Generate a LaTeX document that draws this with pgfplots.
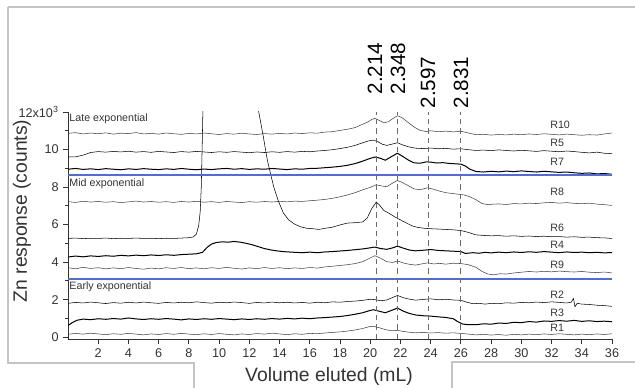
\documentclass[border=0pt]{standalone}
\usepackage{pgfplots}
\pgfplotsset{compat=1.18}
\usepackage{fontspec}
\setmainfont{Liberation Sans}
\definecolor{trace}{HTML}{404040}
\definecolor{bl}{HTML}{4A72C8}
\definecolor{frame}{HTML}{C4C4C4}
\definecolor{txt}{HTML}{333333}
\definecolor{dsh}{HTML}{6A6A6A}
\begin{document}
\begin{tikzpicture}
\useasboundingbox (0,0) rectangle (476.25pt,291pt);
\draw[frame, line width=1.2pt] (6pt,285.75pt) -- (476.25pt,285.75pt);
\draw[frame, line width=1.2pt] (6pt,285.75pt) -- (6pt,18.75pt) -- (145.5pt,18.75pt) -- (145.5pt,0pt);
\draw[frame, line width=1.2pt] (339pt,0pt) -- (339pt,19.5pt) -- (476.25pt,19.5pt);
\begin{axis}[at={(51pt,36.75pt)}, anchor=south west, scale only axis,
  width=408pt, height=170.25pt,
  xmin=0, xmax=36, ymin=-0.1, ymax=12,
  axis x line*=bottom, axis y line*=left,
  xtick={2,4,...,36},
  ytick={0,2,...,12},
  yticklabels={0,2,4,6,8,10,{12x10\textsuperscript{3}}},
  minor ytick={1,3,...,11},
  tick align=outside,
  major tick length=3.5pt, minor tick length=2pt,
  tick style={color=txt, line width=0.6pt},
  axis line style={color=txt, line width=0.6pt},
  ticklabel style={font=\fontsize{9.5}{10}\selectfont, text=txt},
  /pgf/number format/assume math mode=true,
  cycle list={{trace, no markers, line width=0.75pt}},
]
% R10
\addplot coordinates {(0,10.86)(0.5,10.90)(1,10.83)(1.5,10.88)(2,10.84)(2.5,10.89)(3,10.82)(3.5,10.87)(4,10.85)(4.5,10.90)(5,10.83)(5.5,10.86)(6,10.82)(6.5,10.88)(7,10.84)(7.5,10.81)(8,10.86)(8.5,10.83)(9,10.88)(9.5,10.84)(10,10.80)(10.5,10.85)(11,10.82)(11.5,10.87)(12,10.83)(12.5,10.80)(13,10.85)(13.5,10.82)(14,10.86)(14.5,10.83)(15,10.88)(15.5,10.85)(16,10.89)(16.5,10.87)(17,10.93)(17.5,10.95)(18,11.02)(18.5,11.08)(19,11.17)(19.5,11.35)(19.8,11.45)(20.1,11.60)(20.3,11.66)(20.6,11.55)(20.9,11.42)(21.2,11.48)(21.5,11.65)(21.8,11.80)(22.1,11.70)(22.5,11.45)(22.9,11.20)(23.3,11.02)(23.7,10.96)(24,11.00)(24.5,10.95)(25,10.98)(25.5,10.94)(26,10.97)(26.3,10.92)(26.7,10.84)(27,10.79)(27.5,10.81)(28,10.77)(28.5,10.80)(29,10.78)(29.5,10.82)(30,10.79)(30.5,10.83)(31,10.80)(31.5,10.84)(32,10.81)(32.5,10.78)(33,10.82)(33.5,10.79)(34,10.76)(34.5,10.79)(35,10.77)(35.5,10.83)(36,10.88)};
% R5
\addplot coordinates {(0,9.60)(0.5,9.61)(1,9.70)(1.5,9.84)(2,9.89)(2.5,9.86)(3,9.90)(3.5,9.87)(4,9.91)(4.5,9.86)(5,9.89)(5.5,9.85)(6,9.90)(6.5,9.87)(7,9.84)(7.5,9.89)(8,9.86)(8.5,9.90)(9,9.87)(9.5,9.84)(10,9.88)(10.5,9.85)(11,9.89)(11.5,9.86)(12,9.83)(12.5,9.87)(13,9.84)(13.5,9.88)(14,9.85)(14.5,9.89)(15,9.86)(15.5,9.90)(16,9.88)(16.5,9.92)(17,9.95)(17.5,9.99)(18,10.05)(18.5,10.12)(19,10.22)(19.5,10.36)(19.9,10.46)(20.2,10.50)(20.5,10.42)(20.8,10.28)(21.1,10.22)(21.5,10.30)(21.8,10.36)(22.1,10.26)(22.5,10.15)(23,10.07)(23.5,10.05)(24,10.08)(24.5,10.04)(25,10.06)(25.5,10.02)(26,10.04)(26.5,9.99)(27,9.95)(27.5,9.97)(28,9.94)(28.5,9.98)(29,9.95)(29.5,9.92)(30,9.96)(30.5,9.93)(31,9.90)(31.5,9.94)(32,9.91)(32.5,9.88)(33,9.92)(33.5,9.89)(34,9.85)(34.5,9.82)(35,9.86)(35.5,9.80)(36,9.78)};
% R7
\addplot coordinates {(0,8.95)(0.5,8.99)(1,8.94)(1.5,8.97)(2,8.93)(2.5,8.98)(3,8.95)(3.5,8.92)(4,8.97)(4.5,8.94)(5,8.98)(5.5,8.95)(6,8.93)(6.5,8.97)(7,8.94)(7.5,8.99)(8,8.95)(8.5,8.92)(9,8.96)(9.5,8.93)(10,8.97)(10.5,8.99)(11,8.95)(11.5,8.98)(12,8.94)(12.5,8.97)(13,8.95)(13.5,8.99)(14,8.96)(14.5,8.93)(15,8.97)(15.5,8.95)(16,8.99)(16.5,9.00)(17,9.03)(17.5,9.06)(18,9.10)(18.5,9.16)(19,9.25)(19.5,9.38)(19.9,9.50)(20.3,9.60)(20.6,9.55)(21,9.43)(21.4,9.62)(21.8,9.80)(22.1,9.66)(22.5,9.45)(22.9,9.29)(23.3,9.27)(23.7,9.34)(24,9.33)(24.4,9.28)(24.8,9.30)(25.2,9.26)(25.6,9.24)(26,9.22)(26.3,9.12)(26.6,8.95)(27,8.83)(27.5,8.80)(28,8.84)(28.5,8.81)(29,8.85)(29.5,8.82)(30,8.86)(30.5,8.83)(31,8.80)(31.5,8.84)(32,8.81)(32.5,8.78)(33,8.80)(33.5,8.76)(34,8.73)(34.5,8.75)(35,8.70)(35.5,8.72)(36,8.68)};
% R8
\addplot coordinates {(0,7.22)(0.5,7.18)(1,7.24)(1.5,7.20)(2,7.23)(2.5,7.19)(3,7.22)(3.5,7.17)(4,7.21)(4.5,7.25)(5,7.20)(5.5,7.23)(6,7.19)(6.5,7.22)(7,7.18)(7.5,7.23)(8,7.20)(8.5,7.24)(9,7.19)(9.5,7.22)(10,7.18)(10.5,7.23)(11,7.20)(11.5,7.17)(12,7.22)(12.5,7.19)(13,7.23)(13.5,7.20)(14,7.24)(14.5,7.21)(15,7.25)(15.5,7.23)(16,7.27)(16.5,7.30)(17,7.34)(17.5,7.40)(18,7.48)(18.5,7.58)(19,7.70)(19.5,7.85)(20,7.98)(20.4,8.12)(20.8,8.05)(21.1,8.02)(21.5,8.22)(21.8,8.35)(22.1,8.25)(22.5,8.08)(22.9,7.90)(23.3,7.86)(23.8,7.96)(24.2,7.88)(24.6,7.78)(25,7.70)(25.4,7.66)(25.8,7.62)(26.2,7.58)(26.6,7.48)(27,7.32)(27.4,7.12)(27.8,7.06)(28,7.08)(28.5,7.10)(29,7.07)(29.5,7.12)(30,7.10)(30.5,7.14)(31,7.12)(31.5,7.16)(32,7.18)(32.5,7.14)(33,7.17)(33.5,7.13)(34,7.11)(34.5,7.14)(35,7.09)(35.5,7.06)(36,7.02)};
% R6
\addplot coordinates {(0,5.26)(0.5,5.28)(1,5.25)(1.5,5.27)(2,5.26)(2.5,5.28)(3,5.25)(3.5,5.27)(4,5.26)(4.5,5.28)(5,5.26)(5.5,5.27)(6,5.25)(6.5,5.27)(7,5.26)(7.5,5.28)(8,5.30)(8.3,5.34)(8.5,5.50)(8.65,5.95)(8.75,6.7)(8.82,8.0)(8.88,10.2)(8.95,13.0)(9.1,17)(10.8,20)(12.3,13.5)(12.6,12.1)(12.9,10.8)(13.2,9.4)(13.6,8.05)(13.9,7.30)(14.25,6.62)(14.6,6.25)(15,6.02)(15.4,5.88)(15.8,5.80)(16.2,5.78)(16.6,5.74)(17,5.80)(17.5,5.86)(18,5.98)(18.5,6.08)(19,6.10)(19.5,6.14)(19.8,6.35)(20.1,6.85)(20.4,7.20)(20.6,7.05)(20.9,6.75)(21.2,6.62)(21.6,6.42)(22,6.25)(22.4,6.08)(22.8,5.92)(23.2,5.84)(23.6,5.80)(24,5.78)(24.5,5.76)(25,5.74)(25.5,5.72)(26,5.68)(26.5,5.58)(27,5.45)(27.5,5.42)(28,5.40)(28.5,5.41)(29,5.38)(29.5,5.40)(30,5.37)(30.5,5.39)(31,5.36)(31.5,5.38)(32,5.35)(32.5,5.36)(33,5.33)(33.5,5.35)(34,5.32)(34.5,5.33)(35,5.30)(35.5,5.29)(36,5.26)};
% R4
\addplot coordinates {(0,4.27)(0.5,4.32)(1,4.28)(1.5,4.33)(2,4.30)(2.5,4.34)(3,4.31)(3.5,4.36)(4,4.33)(4.5,4.37)(5,4.34)(5.5,4.38)(6,4.35)(6.5,4.39)(7,4.36)(7.5,4.40)(8,4.42)(8.5,4.44)(8.9,4.52)(9.2,4.78)(9.5,4.96)(9.8,5.04)(10.2,5.08)(10.6,5.06)(11,5.10)(11.4,5.06)(11.8,5.00)(12.2,4.92)(12.6,4.82)(13,4.72)(13.4,4.65)(13.8,4.60)(14.2,4.56)(14.6,4.54)(15,4.52)(15.5,4.50)(16,4.53)(16.5,4.50)(17,4.54)(17.5,4.56)(18,4.59)(18.5,4.62)(19,4.66)(19.5,4.70)(20,4.76)(20.3,4.80)(20.7,4.72)(21.1,4.68)(21.5,4.76)(21.8,4.85)(22.2,4.74)(22.6,4.64)(23,4.60)(23.5,4.63)(24,4.67)(24.5,4.62)(25,4.60)(25.5,4.58)(26,4.56)(26.3,4.46)(26.8,4.50)(27.2,4.47)(27.6,4.52)(28,4.49)(28.5,4.53)(29,4.50)(29.5,4.54)(30,4.51)(30.5,4.55)(31,4.52)(31.5,4.56)(32,4.53)(32.5,4.50)(33,4.54)(33.5,4.51)(34,4.53)(34.5,4.50)(35,4.52)(35.5,4.49)(36,4.51)};
% R9
\addplot coordinates {(0,3.70)(0.5,3.64)(1,3.72)(1.5,3.66)(2,3.70)(2.5,3.64)(3,3.69)(3.5,3.65)(4,3.71)(4.5,3.66)(5,3.62)(5.5,3.68)(6,3.64)(6.5,3.70)(7,3.66)(7.5,3.71)(8,3.65)(8.5,3.69)(9,3.64)(9.5,3.70)(10,3.66)(10.5,3.72)(11,3.67)(11.5,3.63)(12,3.69)(12.5,3.65)(13,3.71)(13.5,3.66)(14,3.70)(14.5,3.65)(15,3.69)(15.5,3.66)(16,3.71)(16.5,3.68)(17,3.74)(17.5,3.78)(18,3.82)(18.5,3.86)(19,3.92)(19.5,4.02)(19.9,4.18)(20.3,4.34)(20.7,4.20)(21.1,4.02)(21.5,3.98)(21.8,4.06)(22.2,3.95)(22.6,3.88)(23,3.84)(23.4,3.90)(23.8,3.96)(24.2,3.90)(24.6,3.93)(25,3.89)(25.5,3.94)(26,3.92)(26.5,3.86)(27,3.72)(27.4,3.50)(27.8,3.36)(28.2,3.32)(28.6,3.38)(29,3.36)(29.5,3.42)(30,3.46)(30.5,3.50)(31,3.47)(31.5,3.51)(32,3.48)(32.5,3.52)(33,3.49)(33.5,3.47)(34,3.50)(34.5,3.46)(35,3.44)(35.5,3.47)(36,3.42)};
% R2
\addplot coordinates {(0,1.80)(0.5,1.85)(1,1.82)(1.5,1.87)(2,1.83)(2.5,1.79)(3,1.84)(3.5,1.81)(4,1.86)(4.5,1.82)(5,1.87)(5.5,1.83)(6,1.80)(6.5,1.85)(7,1.82)(7.5,1.86)(8,1.83)(8.5,1.88)(9,1.84)(9.5,1.81)(10,1.86)(10.5,1.83)(11,1.87)(11.5,1.84)(12,1.80)(12.5,1.85)(13,1.82)(13.5,1.87)(14,1.83)(14.5,1.86)(15,1.82)(15.5,1.85)(16,1.81)(16.5,1.86)(17,1.83)(17.5,1.88)(18,1.86)(18.5,1.90)(19,1.92)(19.5,1.96)(20,2.02)(20.3,2.00)(20.7,1.94)(21.1,1.98)(21.5,2.12)(21.8,2.22)(22.2,2.10)(22.6,2.02)(23,1.97)(23.5,2.01)(24,2.04)(24.5,1.99)(25,2.02)(25.5,1.98)(26,1.96)(26.4,1.86)(26.8,1.78)(27.2,1.80)(27.6,1.76)(28,1.80)(28.5,1.78)(29,1.83)(29.5,1.81)(30,1.85)(30.5,1.83)(31,1.87)(31.5,1.84)(32,1.88)(32.5,1.85)(33,1.82)(33.3,1.86)(33.45,2.06)(33.55,1.62)(33.7,1.80)(34,1.76)(34.5,1.74)(35,1.70)(35.5,1.68)(36,1.64)};
% R3
\addplot coordinates {(0,0.62)(0.3,0.78)(0.6,0.90)(1,0.96)(1.5,0.93)(2,0.98)(2.5,0.95)(3,0.99)(3.5,0.96)(4,1.02)(4.5,0.97)(5,0.94)(5.5,0.98)(6,0.95)(6.5,0.99)(7,0.96)(7.5,0.92)(8,0.97)(8.5,0.94)(9,0.98)(9.5,0.95)(10,0.99)(10.5,0.96)(11,0.93)(11.5,0.97)(12,0.94)(12.5,0.98)(13,0.95)(13.5,0.99)(14,0.96)(14.5,1.00)(15,0.97)(15.5,1.01)(16,0.98)(16.5,1.02)(17,1.04)(17.5,1.07)(18,1.10)(18.5,1.15)(19,1.22)(19.5,1.30)(19.9,1.40)(20.2,1.46)(20.6,1.38)(21,1.30)(21.4,1.42)(21.8,1.55)(22.2,1.38)(22.6,1.26)(23,1.18)(23.5,1.14)(24,1.12)(24.5,1.08)(25,1.05)(25.5,0.98)(25.8,0.82)(26.1,0.70)(26.5,0.66)(27,0.66)(27.5,0.71)(28,0.69)(28.5,0.75)(29,0.73)(29.5,0.79)(30,0.77)(30.5,0.83)(31,0.80)(31.5,0.86)(32,0.84)(32.5,0.88)(33,0.85)(33.5,0.89)(34,0.84)(34.5,0.87)(35,0.83)(35.5,0.85)(36,0.82)};
% R1
\addplot coordinates {(0,0.15)(0.5,0.20)(1,0.16)(1.5,0.21)(2,0.17)(2.5,0.13)(3,0.18)(3.5,0.15)(4,0.20)(4.5,0.16)(5,0.12)(5.5,0.17)(6,0.14)(6.5,0.19)(7,0.15)(7.5,0.20)(8,0.16)(8.5,0.13)(9,0.18)(9.5,0.14)(10,0.19)(10.5,0.15)(11,0.12)(11.5,0.17)(12,0.14)(12.5,0.19)(13,0.16)(13.5,0.21)(14,0.17)(14.5,0.13)(15,0.18)(15.5,0.15)(16,0.20)(16.5,0.18)(17,0.22)(17.5,0.25)(18,0.28)(18.5,0.32)(19,0.38)(19.5,0.46)(19.9,0.55)(20.2,0.58)(20.6,0.50)(21,0.40)(21.4,0.34)(21.8,0.36)(22.2,0.30)(22.6,0.26)(23,0.23)(23.5,0.25)(24,0.22)(24.5,0.24)(25,0.21)(25.5,0.23)(26,0.20)(26.5,0.16)(27,0.12)(27.5,0.15)(28,0.11)(28.5,0.14)(29,0.10)(29.5,0.15)(30,0.12)(30.5,0.16)(31,0.13)(31.5,0.17)(32,0.14)(32.5,0.18)(33,0.15)(33.5,0.12)(34,0.16)(34.5,0.13)(35,0.17)(35.5,0.14)(36,0.18)};
% blue separators
\addplot[bl, line width=1.5pt] coordinates {(0,8.64)(36,8.64)};
\addplot[bl, line width=1.5pt] coordinates {(0,3.09)(36,3.09)};
% dashed markers
\addplot[dsh, line width=0.6pt, dash pattern=on 4pt off 3pt] coordinates {(20.4,-0.1)(20.4,12)};
\addplot[dsh, line width=0.6pt, dash pattern=on 4pt off 3pt] coordinates {(21.8,-0.1)(21.8,12)};
\addplot[dsh, line width=0.6pt, dash pattern=on 4pt off 3pt] coordinates {(23.85,-0.1)(23.85,12)};
\addplot[dsh, line width=0.6pt, dash pattern=on 4pt off 3pt] coordinates {(26.0,-0.1)(26.0,12)};
% labels
\begin{scope}[every node/.style={font=\fontsize{8}{9}\selectfont, text=txt, inner sep=0pt}]
\node[anchor=west] at (axis cs:0.08,11.62) {Late exponential};
\node[anchor=west] at (axis cs:0.08,8.2) {Mid exponential};
\node[anchor=west] at (axis cs:0.08,2.67) {Early exponential};
\node[anchor=west] at (axis cs:31.9,11.3) {R10};
\node[anchor=west] at (axis cs:31.9,10.34) {R5};
\node[anchor=west] at (axis cs:31.9,9.33) {R7};
\node[anchor=west] at (axis cs:31.9,7.73) {R8};
\node[anchor=west] at (axis cs:31.9,5.81) {R6};
\node[anchor=west] at (axis cs:31.9,4.9) {R4};
\node[anchor=west] at (axis cs:31.9,3.84) {R9};
\node[anchor=west] at (axis cs:31.9,2.24) {R2};
\node[anchor=west] at (axis cs:31.9,1.28) {R3};
\node[anchor=west] at (axis cs:31.9,0.48) {R1};
\end{scope}
\end{axis}
\node[rotate=90, font=\fontsize{14.5}{16}\selectfont, text=txt] at (16.5pt,132.75pt) {Zn response (counts)};
\node[font=\fontsize{14.5}{16}\selectfont, text=txt] at (246.75pt,9pt) {Volume eluted (mL)};
\begin{scope}[every node/.style={rotate=90, font=\fontsize{15.5}{17}\selectfont, text=black, inner sep=0pt}]
\node at (281.25pt,239.6pt) {2.214};
\node at (298.5pt,239.6pt) {2.348};
\node at (321pt,229.1pt) {2.597};
\node at (345.75pt,229.1pt) {2.831};
\end{scope}
\end{tikzpicture}
\end{document}
